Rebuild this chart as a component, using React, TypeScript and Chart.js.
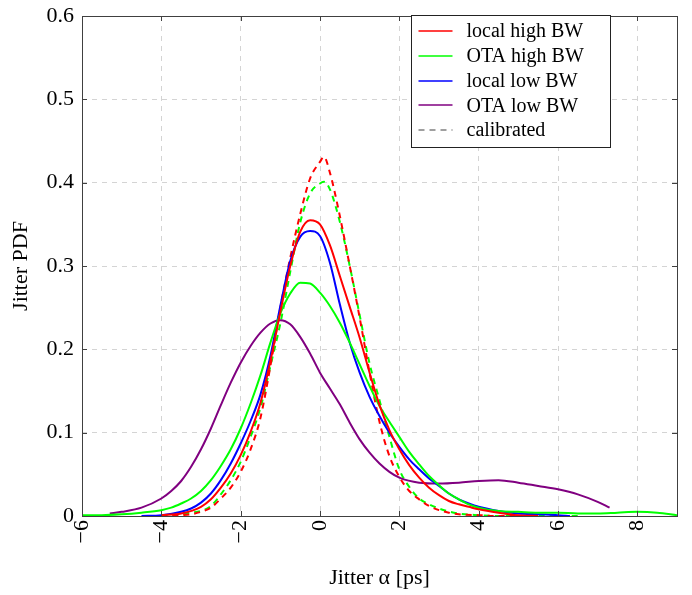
import React, { useEffect, useRef } from 'react';
import { Chart, registerables } from 'chart.js';

Chart.register(...registerables);

// ---- tick values ----
const xTicks = [-6, -4, -2, 0, 2, 4, 6, 8];
const yTicks = [0, 0.1, 0.2, 0.3, 0.4, 0.5, 0.6];

// ---- series: local high BW ----
const localHighX = [-4, -3.5, -3, -2.75, -2.5, -2.25, -2, -1.75, -1.5, -1.25, -1, -0.75, -0.5, -0.25, 0, 0.25, 0.5, 0.75, 1, 1.25, 1.5, 1.75, 2, 2.25, 2.5, 2.75, 3, 3.25, 3.5, 3.75, 4, 4.5, 5, 5.5];
const localHighY = [0.001, 0.003, 0.011, 0.02, 0.034, 0.051, 0.073, 0.101, 0.136, 0.186, 0.245, 0.3, 0.341, 0.355, 0.35, 0.325, 0.288, 0.251, 0.214, 0.172, 0.133, 0.103, 0.08, 0.061, 0.046, 0.034, 0.025, 0.018, 0.014, 0.011, 0.008, 0.004, 0.001, 0];

// ---- series: OTA high BW ----
const otaHighX = [-6, -5.5, -5, -4.5, -4, -3.75, -3.5, -3.25, -3, -2.75, -2.5, -2.25, -2, -1.75, -1.5, -1.25, -1, -0.75, -0.5, -0.25, 0, 0.25, 0.5, 0.75, 1, 1.25, 1.5, 1.75, 2, 2.25, 2.5, 2.75, 3, 3.25, 3.5, 3.75, 4, 4.5, 5, 5.5, 6, 6.5, 7, 7.5, 8, 8.5, 9];
const otaHighY = [0.001, 0.001, 0.002, 0.004, 0.007, 0.01, 0.015, 0.021, 0.03, 0.043, 0.06, 0.08, 0.105, 0.135, 0.169, 0.208, 0.243, 0.267, 0.28, 0.279, 0.268, 0.252, 0.232, 0.208, 0.182, 0.156, 0.132, 0.113, 0.095, 0.077, 0.062, 0.048, 0.037, 0.027, 0.02, 0.014, 0.01, 0.006, 0.005, 0.004, 0.004, 0.003, 0.003, 0.004, 0.005, 0.004, 0.001];

// ---- series: local low BW ----
const localLowX = [-4.5, -4, -3.5, -3.25, -3, -2.75, -2.5, -2.25, -2, -1.75, -1.5, -1.25, -1, -0.75, -0.5, -0.25, 0, 0.25, 0.5, 0.75, 1, 1.25, 1.5, 1.75, 2, 2.25, 2.5, 2.75, 3, 3.25, 3.5, 3.75, 4, 4.5, 5, 5.5, 6, 6.3];
const localLowY = [0, 0.001, 0.005, 0.009, 0.016, 0.027, 0.043, 0.063, 0.087, 0.114, 0.146, 0.192, 0.252, 0.306, 0.335, 0.342, 0.336, 0.304, 0.254, 0.208, 0.172, 0.143, 0.12, 0.1, 0.083, 0.068, 0.056, 0.045, 0.036, 0.027, 0.02, 0.015, 0.011, 0.006, 0.003, 0.002, 0.001, 0];

// ---- series: OTA low BW ----
const otaLowX = [-5.3, -5, -4.5, -4, -3.75, -3.5, -3.25, -3, -2.75, -2.5, -2.25, -2, -1.75, -1.5, -1.25, -1, -0.75, -0.5, -0.25, 0, 0.25, 0.5, 0.75, 1, 1.25, 1.5, 1.75, 2, 2.5, 3, 3.5, 4, 4.5, 5, 5.5, 6, 6.5, 7, 7.3];
const otaLowY = [0.003, 0.005, 0.01, 0.021, 0.03, 0.042, 0.059, 0.08, 0.105, 0.133, 0.16, 0.184, 0.204, 0.22, 0.231, 0.235, 0.23, 0.215, 0.195, 0.172, 0.153, 0.134, 0.112, 0.092, 0.076, 0.063, 0.053, 0.046, 0.04, 0.039, 0.04, 0.042, 0.043, 0.04, 0.036, 0.032, 0.026, 0.017, 0.01];

// ---- calibrated: local high BW ----
const calLocalX = [-4, -3.5, -3.25, -3, -2.75, -2.5, -2.25, -2, -1.75, -1.5, -1.25, -1, -0.75, -0.5, -0.25, 0, 0.1, 0.25, 0.5, 0.75, 1, 1.25, 1.5, 1.75, 2, 2.25, 2.5, 2.75, 3, 3.25, 3.5, 4, 4.5, 5];
const calLocalY = [0, 0.001, 0.002, 0.005, 0.01, 0.021, 0.034, 0.053, 0.08, 0.118, 0.18, 0.25, 0.31, 0.362, 0.405, 0.425, 0.431, 0.412, 0.36, 0.3, 0.238, 0.172, 0.113, 0.072, 0.047, 0.03, 0.02, 0.012, 0.007, 0.004, 0.002, 0.001, 0, 0];

// ---- calibrated: OTA high BW ----
const calOtaX = [-4, -3.5, -3.25, -3, -2.75, -2.5, -2.25, -2, -1.75, -1.5, -1.25, -1, -0.75, -0.5, -0.25, 0, 0.1, 0.25, 0.5, 0.75, 1, 1.25, 1.5, 1.75, 2, 2.25, 2.5, 2.75, 3, 3.5, 4, 4.5, 5, 5.5, 6, 6.6];
const calOtaY = [0, 0.002, 0.004, 0.006, 0.012, 0.026, 0.043, 0.065, 0.095, 0.13, 0.18, 0.231, 0.293, 0.352, 0.387, 0.399, 0.401, 0.392, 0.353, 0.3, 0.241, 0.183, 0.139, 0.095, 0.056, 0.035, 0.021, 0.014, 0.009, 0.003, 0.001, 0, 0, 0, 0, 0];

// ---- legend ----
const legendLabels = ['local high BW', 'OTA high BW', 'local low BW', 'OTA low BW', 'calibrated'];
const legendColors = ['#ff0000', '#00ff00', '#0000ff', '#800080', '#808080'];
const legendDashed = [false, false, false, false, true];

const FONT = '"Liberation Serif", "Times New Roman", serif';

const fmt = (v: number) => (v < 0 ? '\u2212' + Math.abs(v) : String(v));
const pts = (xs: number[], ys: number[]) => xs.map((x, i) => ({ x, y: ys[i] }));

const framePlugin = {
  id: 'frameLegend',
  afterDraw(chart: any) {
    const { ctx, chartArea: a, scales } = chart;
    ctx.save();
    // frame
    ctx.strokeStyle = '#404040';
    ctx.lineWidth = 1;
    ctx.setLineDash([]);
    ctx.strokeRect(Math.round(a.left) + 0.5, Math.round(a.top) + 0.5, Math.round(a.right - a.left), Math.round(a.bottom - a.top));
    // inner ticks
    const tl = 5;
    ctx.beginPath();
    xTicks.forEach((v) => {
      const px = Math.round(scales.x.getPixelForValue(v)) + 0.5;
      ctx.moveTo(px, a.bottom); ctx.lineTo(px, a.bottom - tl);
      ctx.moveTo(px, a.top); ctx.lineTo(px, a.top + tl);
    });
    yTicks.forEach((v) => {
      const py = Math.round(scales.y.getPixelForValue(v)) + 0.5;
      ctx.moveTo(a.left, py); ctx.lineTo(a.left + tl, py);
      ctx.moveTo(a.right, py); ctx.lineTo(a.right - tl, py);
    });
    ctx.stroke();
    // legend
    const bx = Math.round(a.right - 266) + 0.5;
    const by = Math.round(a.top - 1) + 0.5;
    const bw = 199;
    const bh = 132;
    ctx.fillStyle = '#ffffff';
    ctx.fillRect(bx, by, bw, bh);
    ctx.strokeStyle = '#222';
    ctx.lineWidth = 1;
    ctx.strokeRect(bx, by, bw, bh);
    ctx.font = `20px ${FONT}`;
    ctx.textBaseline = 'middle';
    ctx.textAlign = 'left';
    legendLabels.forEach((lab, i) => {
      const cy = by + 15.5 + i * 24.8;
      ctx.strokeStyle = legendColors[i];
      ctx.lineWidth = 1.4;
      ctx.setLineDash(legendDashed[i] ? [6, 5] : []);
      ctx.beginPath();
      ctx.moveTo(bx + 7, Math.round(cy));
      ctx.lineTo(bx + 41, Math.round(cy));
      ctx.stroke();
      ctx.setLineDash([]);
      ctx.fillStyle = '#000';
      ctx.fillText(lab, bx + 55, cy + 1);
    });
    ctx.restore();
  },
};

export default function App() {
  const ref = useRef<HTMLCanvasElement | null>(null);
  useEffect(() => {
    if (!ref.current) return;
    const mk = (label: string, xs: number[], ys: number[], color: string, dashed: boolean) => ({
      label,
      data: pts(xs, ys),
      borderColor: color,
      backgroundColor: color,
      borderWidth: 2,
      borderDash: dashed ? [6, 5] : [],
      pointRadius: 0,
      fill: false,
      cubicInterpolationMode: 'monotone' as const,
    });
    const chart = new Chart(ref.current, {
      type: 'line',
      data: {
        datasets: [
          mk('local high BW', localHighX, localHighY, '#ff0000', false),
          mk('OTA high BW', otaHighX, otaHighY, '#00ff00', false),
          mk('local low BW', localLowX, localLowY, '#0000ff', false),
          mk('OTA low BW', otaLowX, otaLowY, '#800080', false),
          mk('calibrated local high BW', calLocalX, calLocalY, '#ff0000', true),
          mk('calibrated OTA high BW', calOtaX, calOtaY, '#00ff00', true),
        ],
      },
      options: {
        animation: false,
        responsive: true,
        maintainAspectRatio: false,
        layout: { padding: { top: 16, right: 15, left: 0, bottom: 0 } },
        plugins: { legend: { display: false }, tooltip: { enabled: false } },
        scales: {
          x: {
            type: 'linear',
            min: -6,
            max: 9,
            afterBuildTicks: (s: any) => { s.ticks = xTicks.map((v) => ({ value: v })); },
            afterFit: (s: any) => { s.height = 79; s.paddingLeft = 0; s.paddingRight = 0; },
            ticks: { minRotation: 90, maxRotation: 90, padding: 4, color: '#000', font: { family: FONT, size: 22 }, callback: (v: any) => fmt(Number(v)) },
            grid: { color: 'rgba(0,0,0,0.17)', lineWidth: 1, drawTicks: false },
            border: { display: false, dash: [5, 5] },
            title: { display: true, text: 'Jitter \u03b1 [ps]', color: '#000', font: { family: FONT, size: 22 }, padding: { top: 0, bottom: 4 } },
          },
          y: {
            type: 'linear',
            min: 0,
            max: 0.6,
            afterBuildTicks: (s: any) => { s.ticks = yTicks.map((v) => ({ value: v })); },
            afterFit: (s: any) => { s.width = 82; s.paddingTop = 0; s.paddingBottom = 0; },
            ticks: { padding: 8, color: '#000', font: { family: FONT, size: 22 }, callback: (v: any) => String(v) },
            grid: { color: 'rgba(0,0,0,0.17)', lineWidth: 1, drawTicks: false },
            border: { display: false, dash: [5, 5] },
            title: { display: true, text: 'Jitter PDF', color: '#000', font: { family: FONT, size: 22 }, padding: { top: 8, bottom: 0 } },
          },
        },
      },
      plugins: [framePlugin],
    });
    return () => chart.destroy();
  }, []);
  return (
    <div style={{ position: 'fixed', left: 0, top: 0, width: 692, height: 595, background: '#fff' }}>
      <canvas ref={ref} />
    </div>
  );
}
